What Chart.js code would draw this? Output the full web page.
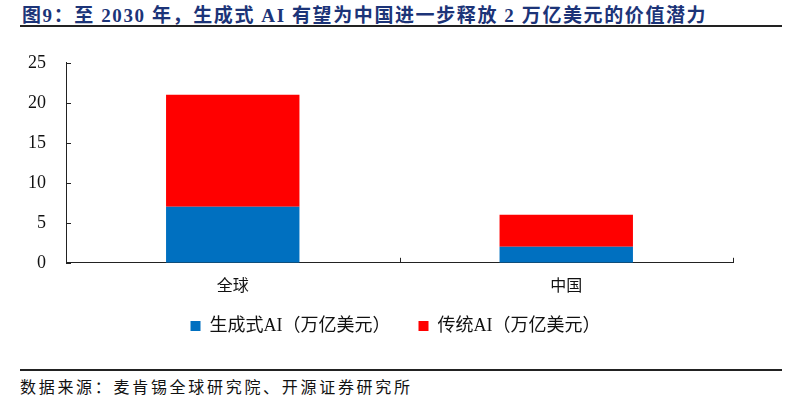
<!DOCTYPE html>
<html>
<head>
<meta charset="utf-8">
<script src="https://cdn.jsdelivr.net/npm/chart.js@4"></script>
<style>
    html, body { margin: 0; padding: 0; background: #fff; }
    body { width: 803px; height: 397px; position: relative; overflow: hidden; }
    .title {
        position: absolute; left: 22px; top: 0px;
        font: bold 19px "Liberation Serif", "Noto Sans CJK SC", serif;
        letter-spacing: 1.6px; color: #1c3478; white-space: nowrap;
    }
    .rule { position: absolute; left: 20px; width: 762px; height: 2px; background: #222; }
    .source {
        position: absolute; left: 20px; top: 374px;
        font: 16px "Liberation Serif", "Noto Sans CJK SC", serif;
        letter-spacing: 2.7px; color: #111; white-space: nowrap;
    }
    .chart { position: absolute; left: 0; top: 40px; width: 803px; height: 318px; }
</style>
</head>
<body>
<div class="title">图9：至 2030 年，生成式 AI 有望为中国进一步释放 2 万亿美元的价值潜力</div>
<div class="rule" style="top:25px"></div>
<div class="chart"><canvas id="c"></canvas></div>
<div class="rule" style="top:369px"></div>
<div class="source">数据来源：麦肯锡全球研究院、开源证券研究所</div>
<script>
    const categories = ["全球", "中国"];
    const genAI = [7, 2];
    const traditionalAI = [14, 4];
    const seriesNames = ["生成式AI（万亿美元）", "传统AI（万亿美元）"];
    const yTicks = [0, 5, 10, 15, 20, 25];

    const fontFamily = "\"Liberation Serif\", \"Noto Sans CJK SC\", serif";

    // inward tick marks, as in the source figure
    const innerTicks = {
        id: "innerTicks",
        afterDraw(chart) {
            const { ctx, scales } = chart;
            const x = scales.x, y = scales.y;
            ctx.save();
            ctx.strokeStyle = "#222";
            ctx.lineWidth = 1;
            ctx.beginPath();
            for (const v of yTicks) {
                const py = Math.round(y.getPixelForValue(v)) + 0.5;
                ctx.moveTo(x.left, py);
                ctx.lineTo(x.left + 5, py);
            }
            for (let i = 0; i <= categories.length; i++) {
                const px = Math.round(x.left + (x.right - x.left) * i / categories.length) + 0.5;
                ctx.moveTo(px, y.bottom);
                ctx.lineTo(px, y.bottom - 5);
            }
            ctx.stroke();
            ctx.restore();
        }
    };

    // wide gap between legend items, but the legend row sits closer to the axis labels
    const nudgeLegend = {
        id: "nudgeLegend",
        afterLayout(chart) {
            const lg = chart.legend;
            if (lg) {
                lg.top -= 13;
                lg.bottom -= 13;
                lg.left += 21;
                lg.right += 21;
            }
        }
    };

    new Chart(document.getElementById("c"), {
        type: "bar",
        data: {
            labels: categories,
            datasets: [{
                label: seriesNames[0],
                data: genAI,
                backgroundColor: "#0070c0",
                categoryPercentage: 1,
                barPercentage: 0.4
            }, {
                label: seriesNames[1],
                data: traditionalAI,
                backgroundColor: "#ff0000",
                categoryPercentage: 1,
                barPercentage: 0.4
            }]
        },
        options: {
            responsive: true,
            maintainAspectRatio: false,
            animation: false,
            layout: { padding: { left: 16, right: 70, top: 14, bottom: 0 } },
            scales: {
                x: {
                    stacked: true,
                    grid: { display: false },
                    border: { color: "#222", width: 1 },
                    ticks: {
                        color: "#111",
                        padding: 6,
                        font: { family: fontFamily, size: 16 }
                    }
                },
                y: {
                    stacked: true,
                    min: 0,
                    max: 25,
                    afterBuildTicks(axis) {
                        axis.ticks = yTicks.map(v => ({ value: v }));
                    },
                    grid: { display: false },
                    border: { color: "#222", width: 1 },
                    ticks: {
                        color: "#111",
                        padding: 12,
                        font: { family: fontFamily, size: 18 }
                    }
                }
            },
            plugins: {
                legend: {
                    position: "bottom",
                    labels: {
                        boxWidth: 10,
                        boxHeight: 10,
                        padding: 28,
                        color: "#111",
                        font: { family: fontFamily, size: 18 }
                    }
                },
                tooltip: { enabled: false }
            }
        },
        plugins: [innerTicks, nudgeLegend]
    });
</script>
</body>
</html>
